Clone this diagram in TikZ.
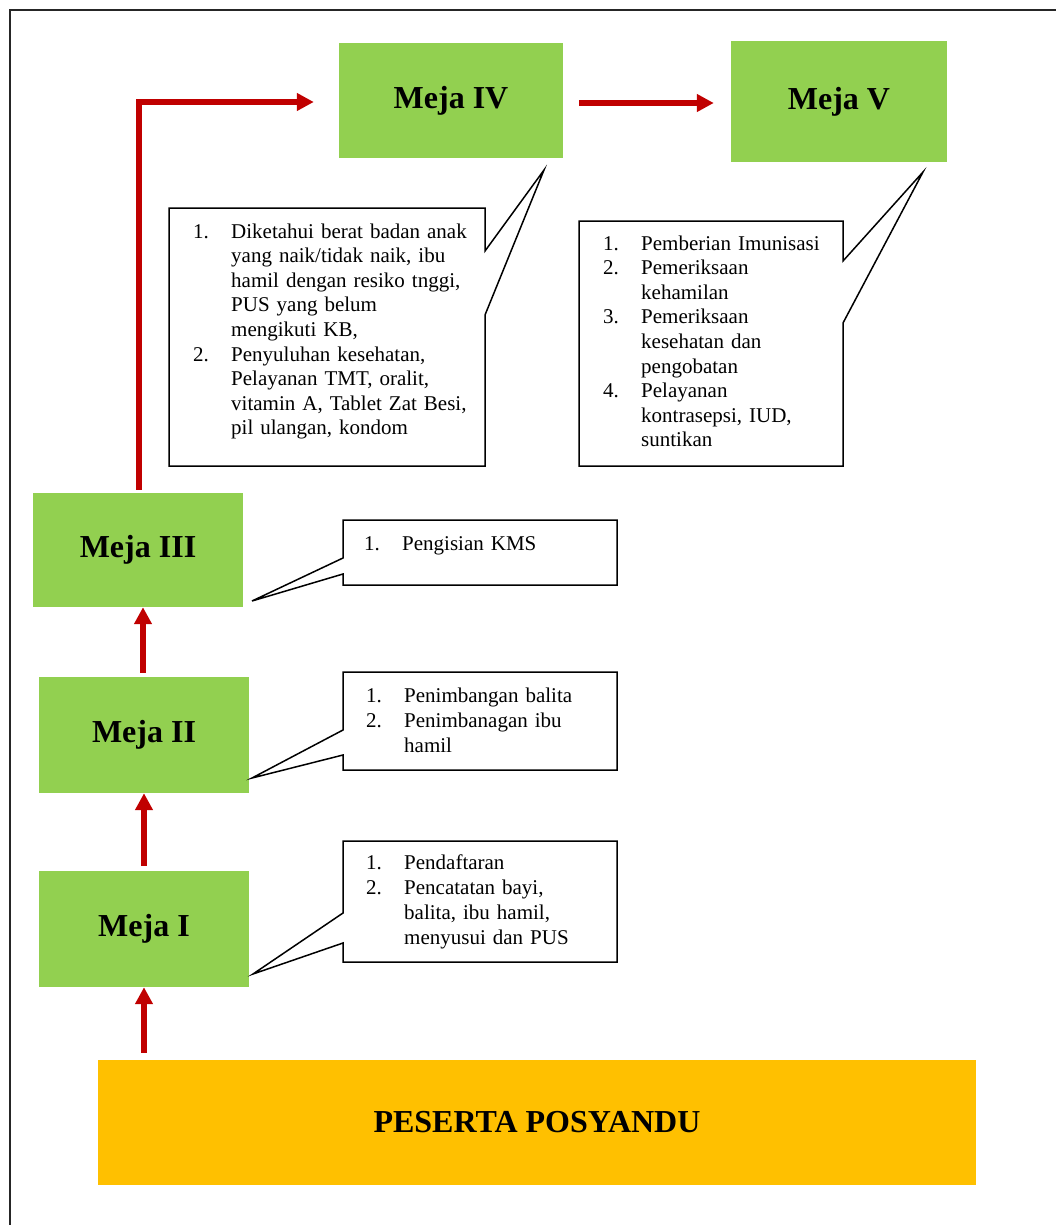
\documentclass[tikz,border=0pt]{standalone}
\usepackage{fontspec}
\setmainfont{Liberation Serif}
\usetikzlibrary{arrows.meta}
\definecolor{mejagreen}{HTML}{92D050}
\definecolor{pesyellow}{HTML}{FFC000}
\definecolor{arrowred}{HTML}{C00000}
\newcommand{\num}[1]{\makebox[38pt][l]{#1}}
\newcommand{\cont}{\hspace*{38pt}}
\begin{document}
\begin{tikzpicture}[x=1pt,y=-1pt,
  meja/.style={fill=mejagreen, draw=none, inner sep=0pt, font=\fontsize{32}{38}\bfseries\selectfont},
  pes/.style={fill=pesyellow, draw=none, inner sep=0pt, font=\fontsize{32}{38}\bfseries\selectfont},
  arr/.style={draw=arrowred, line width=5.5pt, line join=miter, -{Triangle[width=17pt,length=17pt]}},
  callout/.style={draw=black, fill=white, line width=1.5pt, line join=miter},
  ctext/.style={anchor=base west, inner sep=0pt, align=left, font=\fontsize{21}{24.6}\selectfont},
  frameline/.style={draw=black!85, line width=2.2pt}
]
\useasboundingbox (0,0) rectangle (1056,1225);
\draw[frameline] (10,1226) -- (10,10) -- (1057,10);

% main boxes
\node[meja, minimum width=224pt, minimum height=115pt] (m4) at (451,100.5) {Meja IV};
\node[meja, minimum width=216pt, minimum height=121pt] (m5) at (839,101.5) {Meja V};
\node[meja, minimum width=210pt, minimum height=114pt] (m3) at (138,550) {Meja III};
\node[meja, minimum width=210pt, minimum height=116pt] (m2) at (144,735) {Meja II};
\node[meja, minimum width=210pt, minimum height=116pt] (m1) at (144,929) {Meja I};
\node[pes, minimum width=878pt, minimum height=125pt] (p) at (537,1122.5) {PESERTA POSYANDU};

% arrows
\draw[arr, shorten <=7pt] (m1.south |- p.north) -- (m1.south);
\draw[arr, shorten <=5pt] (m2.south |- m1.north) -- (m2.south);
\draw[arr, shorten <=4pt] ([xshift=5pt]m3.south |- m2.north) -- ([xshift=5pt]m3.south);
\draw[arr, shorten <=3pt, shorten >=25pt] ([xshift=1pt]m3.north) |- ([yshift=-1.5pt]m4.west);
\draw[arr, shorten <=16pt, shorten >=17pt] ([yshift=-2.5pt]m4.east) -- ([yshift=-2.5pt]m4.east -| m5.west);

% callout Meja IV
\coordinate (t4) at (544,170);
\draw[callout] (169,208) -- (485,208) -- (485,251) -- (t4) -- (485,315) -- (485,466) -- (169,466) -- cycle;
\node[ctext, text width=300pt] (c4) at (193,238) {%
\num{1.}Diketahui berat badan anak\\
\cont yang naik/tidak naik, ibu\\
\cont hamil dengan resiko tnggi,\\
\cont PUS yang belum\\
\cont mengikuti KB,\\
\num{2.}Penyuluhan kesehatan,\\
\cont Pelayanan TMT, oralit,\\
\cont vitamin A, Tablet Zat Besi,\\
\cont pil ulangan, kondom};

% callout Meja V
\coordinate (t5) at (923,172);
\draw[callout] (579,221) -- (843,221) -- (843,261) -- (t5) -- (843,323) -- (843,466) -- (579,466) -- cycle;
\node[ctext, text width=250pt] (c5) at (603,250) {%
\num{1.}Pemberian Imunisasi\\
\num{2.}Pemeriksaan\\
\cont kehamilan\\
\num{3.}Pemeriksaan\\
\cont kesehatan dan\\
\cont pengobatan\\
\num{4.}Pelayanan\\
\cont kontrasepsi, IUD,\\
\cont suntikan};

% callout Meja III
\coordinate (t3) at (252,601);
\draw[callout] (343,520) -- (617,520) -- (617,585) -- (343,585) -- (343,574) -- (t3) -- (343,558) -- cycle;
\node[ctext, text width=250pt] (c3) at (364,550) {\num{1.}Pengisian KMS};

% callout Meja II
\coordinate (t2) at (252,778);
\draw[callout] (343,672) -- (617,672) -- (617,770) -- (343,770) -- (343,755) -- (t2) -- (343,730) -- cycle;
\node[ctext, text width=250pt, font=\fontsize{21}{25}\selectfont] (c2) at (366,702) {%
\num{1.}Penimbangan balita\\
\num{2.}Penimbanagan ibu\\
\cont hamil};

% callout Meja I
\coordinate (t1) at (253,974);
\draw[callout] (343,841) -- (617,841) -- (617,962) -- (343,962) -- (343,943) -- (t1) -- (343,913) -- cycle;
\node[ctext, text width=250pt, font=\fontsize{21}{25}\selectfont] (c1) at (366,869) {%
\num{1.}Pendaftaran\\
\num{2.}Pencatatan bayi,\\
\cont balita, ibu hamil,\\
\cont menyusui dan PUS};
\end{tikzpicture}
\end{document}
